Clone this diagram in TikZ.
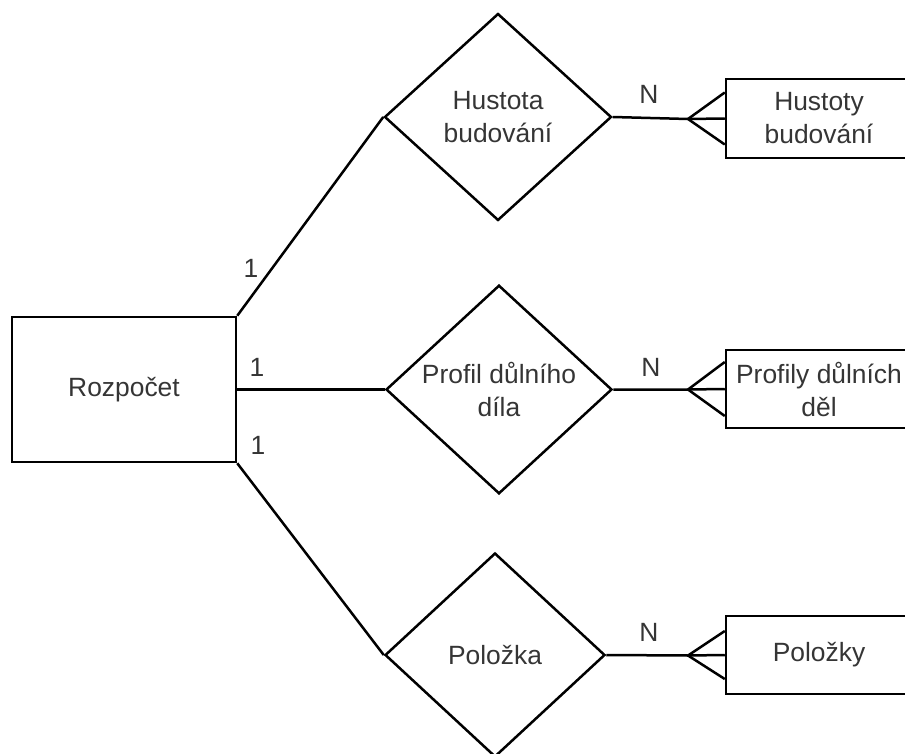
\documentclass[tikz,border=0pt]{standalone}
\usepackage{fontspec}
\setmainfont{Liberation Sans}
\usetikzlibrary{shapes.geometric,calc}
\definecolor{txt}{HTML}{353535}
\begin{document}
\begin{tikzpicture}[x=0.5pt,y=-0.5pt,
  every node/.style={text=txt, font=\fontsize{13.2}{16.5}\selectfont},
  entity/.style={draw=black, rectangle, line width=1.25pt, inner sep=0pt, align=center},
  relation/.style={draw=black, diamond, line width=1.25pt, inner sep=0pt, align=center},
  link/.style={line width=1.25pt},
  card/.style={inner sep=0pt}]
\useasboundingbox (0,0) rectangle (905,754);
\clip (0,0) rectangle (905,754);

% entities
\node[entity, minimum width=112pt, minimum height=72.5pt] (budget) at (124,389.5) {Rozpočet};
\node[entity, minimum width=93pt, minimum height=39.5pt] (e1) at (819,118.5) {Hustoty\\budování};
\node[entity, minimum width=93pt, minimum height=39pt] (e2) at (819,389) {Profily důlních\\děl};
\node[entity, minimum width=93pt, minimum height=39pt] (e3) at (819,655) {Položky};

% relationships
\node[relation, minimum width=113.5pt, minimum height=103.5pt] (r1) at (498,117) {Hustota\\budování};
\node[relation, minimum width=113pt, minimum height=103.5pt] (r2) at (499,389.5) {Profil důlního\\díla};
\node[relation, minimum width=110pt, minimum height=102pt] (r3) at (495,655) {Položka};

% one side
\draw[link] (budget.north east) -- (r1.west);
\draw[link] (budget.east) -- (r2.west);
\draw[link] (budget.south east) -- (r3.west);

% many side with crow's feet
\coordinate (f1) at (688,119);
\coordinate (f2) at (688,389.5);
\coordinate (f3) at (688,655.5);
\draw[link] (r1.east) -- (f1) -- (e1.west);
\draw[link] ($(e1.west)+(0,-26)$) -- (f1) -- ($(e1.west)+(0,26)$);
\draw[link] (r2.east) -- (f2) -- (e2.west);
\draw[link] ($(e2.west)+(0,-27)$) -- (f2) -- ($(e2.west)+(0,27)$);
\draw[link] (r3.east) -- (f3) -- (e3.west);
\draw[link] ($(e3.west)+(0,-24)$) -- (f3) -- ($(e3.west)+(0,24)$);

% cardinalities
\node[card] (c1) at (251,268) {1};
\node[card] (c2) at (257,367) {1};
\node[card] (c3) at (258,445) {1};
\node[card] (m1) at (649,94) {N};
\node[card] (m2) at (651,367) {N};
\node[card] (m3) at (649,632) {N};
\end{tikzpicture}
\end{document}
